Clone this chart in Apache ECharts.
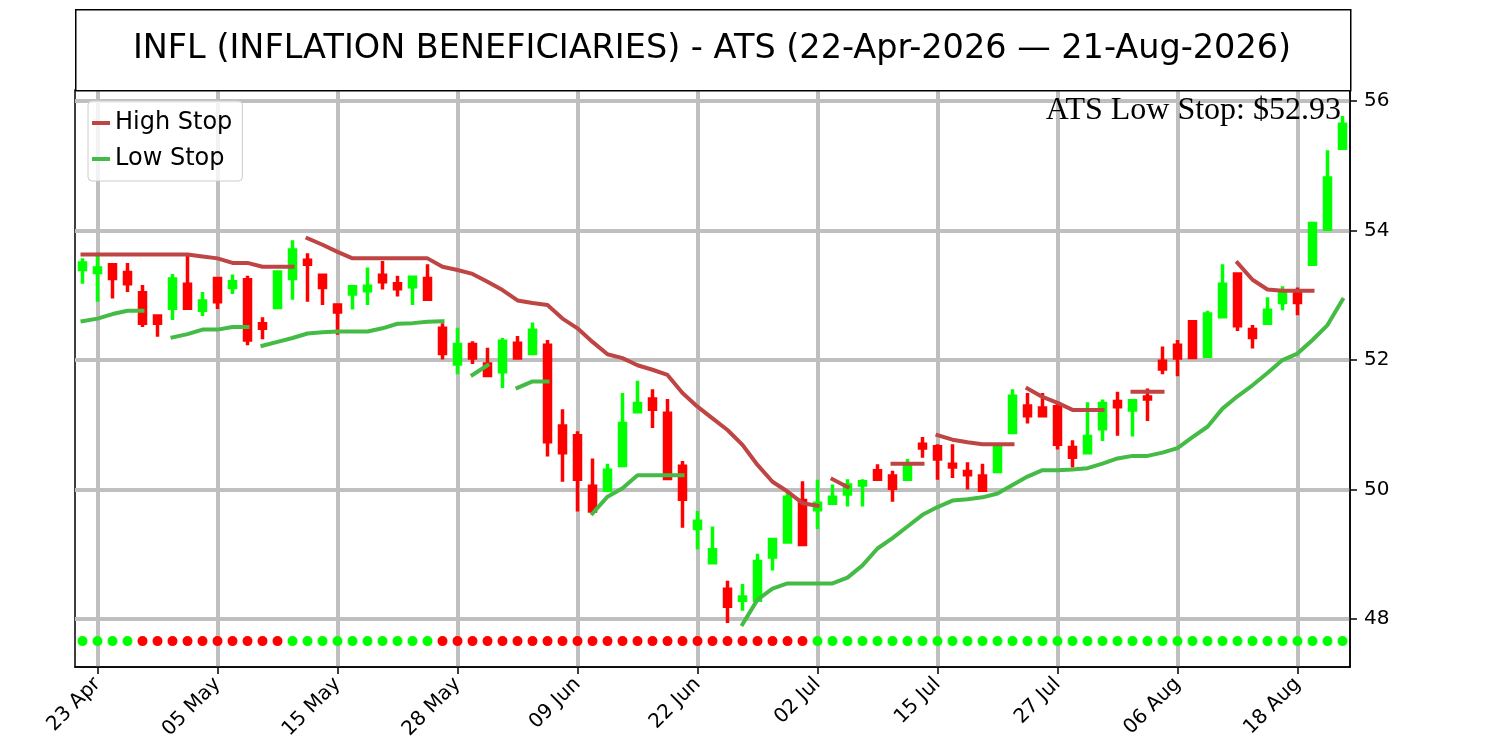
<!DOCTYPE html>
<html>
<head>
    <meta http-equiv=Content-Type content="text/html; charset=utf-8">
    <title>INFL - ATS</title>
    <script type="text/javascript" src="https://cdn.jsdelivr.net/npm/echarts@6.0.0/dist/echarts.min.js"></script>
    <style>
        html, body { margin: 0; padding: 0; background: #fff; }
        #chartmain { width: 1500px; height: 750px; }
    </style>
</head>
<body>
<div id="chartmain"></div>

<script type="text/javascript">
    // trading days, 22-Apr-2026 .. 21-Aug-2026
    var dates = ['22 Apr', '23 Apr', '24 Apr', '27 Apr', '28 Apr', '29 Apr', '30 Apr', '01 May', '04 May', '05 May',
        '06 May', '07 May', '08 May', '11 May', '12 May', '13 May', '14 May', '15 May', '18 May', '19 May',
        '20 May', '21 May', '22 May', '26 May', '27 May', '28 May', '29 May', '01 Jun', '02 Jun', '03 Jun',
        '04 Jun', '05 Jun', '08 Jun', '09 Jun', '10 Jun', '11 Jun', '12 Jun', '15 Jun', '16 Jun', '17 Jun',
        '18 Jun', '22 Jun', '23 Jun', '24 Jun', '25 Jun', '26 Jun', '29 Jun', '30 Jun', '01 Jul', '02 Jul',
        '06 Jul', '07 Jul', '08 Jul', '09 Jul', '10 Jul', '13 Jul', '14 Jul', '15 Jul', '16 Jul', '17 Jul',
        '20 Jul', '21 Jul', '22 Jul', '23 Jul', '24 Jul', '27 Jul', '28 Jul', '29 Jul', '30 Jul', '31 Jul',
        '03 Aug', '04 Aug', '05 Aug', '06 Aug', '07 Aug', '10 Aug', '11 Aug', '12 Aug', '13 Aug', '14 Aug',
        '17 Aug', '18 Aug', '19 Aug', '20 Aug', '21 Aug'];

    var open = [53.40, 53.35, 53.47, 53.35, 53.04, 52.68, 52.80, 53.17, 52.77, 53.26,
        53.12, 53.24, 52.56, 52.81, 53.26, 53.54, 53.31, 52.85, 53.02, 53.07,
        53.31, 53.18, 53.13, 53.26, 52.49, 51.94, 52.24, 51.94, 51.82, 52.26,
        52.10, 52.23, 50.98, 50.83, 50.05, 49.99, 50.37, 51.20, 51.40, 51.18,
        50.36, 49.40, 48.87, 48.46, 48.29, 48.29, 48.96, 49.19, 49.83, 49.69,
        49.79, 49.93, 50.07, 50.29, 50.21, 50.16, 50.70, 50.66, 50.39, 50.28,
        50.21, 50.28, 50.88, 51.29, 51.26, 51.28, 50.65, 50.57, 50.94, 51.36,
        51.23, 51.43, 51.98, 52.23, 52.59, 52.06, 52.67, 53.33, 52.47, 52.57,
        52.89, 53.05, 53.48, 54.02, 55.27];
    var close = [53.50, 53.42, 53.26, 53.18, 52.57, 52.57, 53.25, 52.80, 52.91, 52.90,
        53.21, 52.31, 52.49, 53.36, 53.70, 53.48, 53.12, 52.74, 53.13, 53.14,
        53.21, 53.10, 53.28, 52.94, 52.10, 52.24, 52.03, 51.76, 52.29, 52.03,
        52.46, 50.74, 50.57, 50.16, 49.67, 50.30, 51.02, 51.33, 51.24, 50.17,
        49.85, 49.51, 49.07, 48.20, 48.34, 48.89, 49.23, 49.88, 49.15, 49.79,
        49.88, 50.07, 50.12, 50.16, 50.02, 50.36, 50.64, 50.47, 50.35, 50.23,
        49.99, 50.65, 51.44, 51.14, 51.14, 50.70, 50.50, 50.82, 51.33, 51.28,
        51.37, 51.40, 51.86, 52.03, 52.04, 52.71, 53.17, 52.53, 52.35, 52.77,
        53.05, 52.89, 54.11, 54.81, 55.64];
    var high = [53.57, 53.66, 53.47, 53.50, 53.16, 52.68, 53.33, 53.62, 53.05, 53.26,
        53.32, 53.30, 52.66, 53.36, 53.85, 53.65, 53.33, 52.85, 53.16, 53.43,
        53.53, 53.30, 53.29, 53.48, 52.57, 52.50, 52.29, 52.19, 52.34, 52.37,
        52.58, 52.31, 51.24, 50.90, 50.48, 50.40, 51.49, 51.68, 51.55, 51.40,
        50.44, 49.67, 49.43, 48.59, 48.54, 49.01, 49.23, 49.99, 50.13, 50.15,
        50.08, 50.16, 50.16, 50.39, 50.29, 50.47, 50.81, 50.70, 50.70, 50.42,
        50.40, 50.70, 51.55, 51.49, 51.49, 51.36, 50.76, 51.35, 51.39, 51.51,
        51.38, 51.56, 52.21, 52.31, 52.62, 52.76, 53.48, 53.33, 52.54, 52.97,
        53.14, 53.12, 54.11, 55.24, 55.77];
    var low = [53.18, 52.90, 52.95, 53.05, 52.51, 52.36, 52.62, 52.80, 52.68, 52.79,
        53.02, 52.23, 52.32, 52.81, 52.93, 52.90, 52.85, 52.39, 52.78, 52.85,
        53.09, 52.98, 52.85, 52.93, 52.01, 51.78, 51.94, 51.76, 51.57, 52.03,
        52.10, 50.51, 50.12, 49.66, 49.67, 49.97, 50.37, 51.20, 50.95, 50.17,
        49.41, 49.08, 48.87, 47.94, 48.13, 48.29, 48.75, 49.19, 49.15, 49.39,
        49.76, 49.74, 49.74, 50.16, 49.81, 50.16, 50.49, 50.15, 50.18, 50.00,
        49.98, 50.28, 50.88, 51.02, 51.14, 50.62, 50.34, 50.57, 50.75, 50.83,
        50.82, 51.06, 51.78, 51.75, 52.03, 52.03, 52.67, 52.45, 52.18, 52.57,
        52.77, 52.69, 53.48, 54.02, 55.27];

    // ATS stops, null = no stop drawn; a "break" index starts a new segment
    var highStop = [53.63, 53.63, 53.63, 53.63, 53.63, 53.63, 53.63, 53.63, 53.60, 53.57,
        53.50, 53.50, 53.44, 53.44, 53.44, 53.88, 53.78, 53.67, 53.57, 53.57,
        53.57, 53.57, 53.57, 53.57, 53.44, 53.39, 53.33, 53.21, 53.08, 52.92,
        52.88, 52.85, 52.64, 52.49, 52.28, 52.09, 52.03, 51.92, 51.85, 51.77,
        51.49, 51.28, 51.10, 50.92, 50.69, 50.38, 50.12, 49.97, 49.79, 49.75,
        50.16, 50.04, null, null, 50.40, 50.40, 50.40, 50.84, 50.77, 50.73,
        50.70, 50.70, 50.70, 51.56, 51.43, 51.34, 51.23, 51.23, 51.23, null,
        51.51, 51.51, 51.51, null, null, null, null, 53.50, 53.24, 53.09,
        53.07, 53.07, 53.07, null, null];
    var highStopBreaks = [15, 50, 57, 63];

    var lowStop = [52.60, 52.64, 52.71, 52.76, 52.76, null, 52.35, 52.40, 52.47, 52.47,
        52.51, 52.51, 52.22, 52.28, 52.34, 52.41, 52.43, 52.44, 52.44, 52.44,
        52.49, 52.56, 52.57, 52.59, 52.60, null, 51.77, 51.92, null, 51.57,
        51.67, 51.67, null, null, 49.63, 49.89, 50.02, 50.22, 50.22, 50.22,
        50.22, null, null, null, 47.92, 48.30, 48.47, 48.55, 48.55, 48.55,
        48.55, 48.64, 48.83, 49.09, 49.25, 49.43, 49.61, 49.73, 49.83, 49.85,
        49.88, 49.94, 50.07, 50.20, 50.30, 50.30, 50.31, 50.33, 50.40, 50.48,
        50.52, 50.52, 50.57, 50.64, 50.81, 50.97, 51.25, 51.44, 51.61, 51.80,
        52.00, 52.10, 52.31, 52.54, 52.93];
    var lowStopBreaks = [12];

    // trend marker under each bar: 1 = long (green), -1 = short (red)
    var trend = [1, 1, 1, 1, -1, -1, -1, -1, -1, -1,
        -1, -1, -1, -1, 1, 1, 1, 1, 1, 1,
        1, 1, 1, 1, -1, -1, -1, -1, -1, -1,
        -1, -1, -1, -1, -1, -1, -1, -1, -1, -1,
        -1, -1, -1, -1, -1, -1, -1, -1, -1, 1,
        1, 1, 1, 1, 1, 1, 1, 1, 1, 1,
        1, 1, 1, 1, 1, 1, 1, 1, 1, 1,
        1, 1, 1, 1, 1, 1, 1, 1, 1, 1,
        1, 1, 1, 1, 1];
    var markerLevel = 47.66;

    var xTicks = [1, 9, 17, 25, 33, 41, 49, 57, 65, 73, 81];
    var yTicks = [48, 50, 52, 54, 56];
    var lastLowStop = 52.93;

    function buildStop(vals, breaks) {
        var out = [];
        for (var i = 0; i < vals.length; i++) {
            if (breaks.indexOf(i) >= 0) out.push([i - 0.5, '-']);
            out.push([i, vals[i] == null ? '-' : vals[i]]);
        }
        return out;
    }

    var candles = [];
    var markers = [];
    for (var i = 0; i < dates.length; i++) {
        candles.push([i, open[i], close[i], low[i], high[i]]);
        markers.push({value: [i, markerLevel], itemStyle: {color: trend[i] > 0 ? '#00ff00' : '#ff0000'}});
    }

    var myChart = echarts.init(document.getElementById('chartmain'));
    var option = {
        animation: false,
        backgroundColor: '#fff',
        textStyle: {fontFamily: 'DejaVu Sans', color: '#000'},
        grid: {left: 75, top: 90, width: 1275, height: 577, show: true, borderColor: '#000', borderWidth: 1.5},
        graphic: [
            {
                type: 'rect', left: 75, top: 9, z: 10,
                shape: {width: 1275, height: 81},
                style: {fill: '#fff', stroke: '#000', lineWidth: 1.5}
            },
            {
                type: 'text', x: 712, y: 49, z: 11,
                style: {
                    text: 'INFL (INFLATION BENEFICIARIES) - ATS (22-Apr-2026 \u2014 21-Aug-2026)',
                    fontFamily: 'DejaVu Sans', fontSize: 33.5, fill: '#000',
                    align: 'center', verticalAlign: 'middle'
                }
            },
            {
                type: 'text', x: 1341, y: 111, z: 11,
                style: {
                    text: 'ATS Low Stop: $' + lastLowStop.toFixed(2),
                    fontFamily: 'Liberation Serif', fontSize: 32, fill: '#000',
                    align: 'right', verticalAlign: 'middle'
                }
            }
        ],
        legend: {
            data: ['High Stop', 'Low Stop'],
            orient: 'vertical',
            left: 88, top: 101,
            padding: [7, 10, 7, 4],
            itemGap: 6,
            icon: 'rect',
            itemWidth: 18, itemHeight: 4,
            backgroundColor: 'rgba(255,255,255,0.8)',
            borderColor: '#cccccc', borderWidth: 1, borderRadius: 4,
            textStyle: {fontSize: 24, fontFamily: 'DejaVu Sans', color: '#000', lineHeight: 30}
        },
        xAxis: {
            type: 'value', min: -0.5, max: 84.5,
            axisLine: {onZero: false, lineStyle: {color: '#000', width: 1.5}},
            axisTick: {customValues: xTicks, length: 7, lineStyle: {color: '#000', width: 1.5}},
            axisLabel: {
                customValues: xTicks, rotate: 45, margin: 14, fontSize: 20, color: '#000',
                formatter: function (v) { return dates[Math.round(v)]; }
            },
            splitLine: {show: true, lineStyle: {color: '#bfbfbf', width: 4}}
        },
        yAxis: {
            type: 'value', position: 'right', min: 47.26, max: 56.17, scale: true,
            axisLine: {show: true, onZero: false, lineStyle: {color: '#000', width: 1.5}},
            axisTick: {show: true, customValues: yTicks, length: 7, lineStyle: {color: '#000', width: 1.5}},
            axisLabel: {customValues: yTicks, margin: 14, fontSize: 20, color: '#000'},
            splitLine: {show: true, lineStyle: {color: '#bfbfbf', width: 4}}
        },
        series: [
            {
                name: 'OHLC',
                type: 'candlestick',
                data: candles,
                encode: {x: 0, y: [1, 2, 3, 4]},
                barWidth: 7,
                itemStyle: {
                    color: '#00ff00', color0: '#ff0000',
                    borderColor: '#00ff00', borderColor0: '#ff0000',
                    borderWidth: 3.5
                },
                z: 3
            },
            {
                name: 'High Stop',
                type: 'line',
                data: buildStop(highStop, highStopBreaks),
                symbol: 'none',
                connectNulls: false,
                color: '#bf4444',
                lineStyle: {color: '#bf4444', width: 4, cap: 'square', join: 'round'},
                z: 4
            },
            {
                name: 'Low Stop',
                type: 'line',
                data: buildStop(lowStop, lowStopBreaks),
                symbol: 'none',
                connectNulls: false,
                color: '#44bb44',
                lineStyle: {color: '#44bb44', width: 4, cap: 'square', join: 'round'},
                z: 4
            },
            {
                name: 'Trend',
                type: 'scatter',
                data: markers,
                symbol: 'circle',
                symbolSize: 10,
                itemStyle: {opacity: 1},
                z: 5
            }
        ]
    };
    myChart.setOption(option);
</script>
</body>
</html>
